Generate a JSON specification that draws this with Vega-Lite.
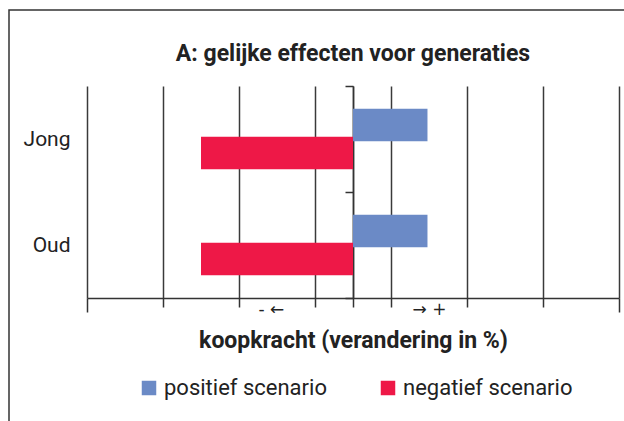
{
  "$schema": "https://vega.github.io/schema/vega-lite/v6.json",
  "width": 616,
  "height": 412,
  "autosize": {"type": "none"},
  "padding": {"left": 9, "top": 10, "right": 0, "bottom": 0},
  "background": "white",
  "title": {
    "text": "A: gelijke effecten voor generaties",
    "font": "Roboto",
    "fontSize": 23,
    "fontWeight": "bold",
    "color": "#222222",
    "anchor": "middle",
    "offset": -85,
    "baseline": "alphabetic",
    "dx": 36
  },
  "data": {
    "values": [
      {"groep": "Jong", "scenario": "positief scenario", "verandering": 0.98},
      {"groep": "Jong", "scenario": "negatief scenario", "verandering": -2.0},
      {"groep": "Oud", "scenario": "positief scenario", "verandering": 0.98},
      {"groep": "Oud", "scenario": "negatief scenario", "verandering": -2.0}
    ]
  },
  "resolve": {"axis": {"x": "independent"}},
  "layer": [
    {
      "mark": {"type": "rule", "opacity": 0},
      "encoding": {
        "y": {
          "field": "groep",
          "type": "nominal",
          "sort": ["Jong", "Oud"],
          "scale": {"range": [76, 288], "paddingInner": 0, "paddingOuter": 0}
        },
        "x": {
          "field": "verandering",
          "type": "quantitative",
          "scale": {"domain": [-3.5, 3.5], "range": [78, 610], "nice": false, "zero": false},
          "axis": {
            "orient": "top",
            "title": null,
            "values": [-3.5, -2.5, -1.5, -0.5, 0, 0.5, 1.5, 2.5, 3.5],
            "labels": false,
            "ticks": false,
            "domain": false,
            "grid": true,
            "gridColor": "#3a3a3a",
            "gridWidth": 1.5
          }
        }
      }
    },
    {
      "mark": {"type": "bar", "size": 32.7},
      "encoding": {
        "y": {
          "field": "groep",
          "type": "nominal",
          "sort": ["Jong", "Oud"],
          "scale": {"range": [76, 288], "paddingInner": 0, "paddingOuter": 0},
          "axis": {
            "title": null,
            "orient": "left",
            "offset": -344,
            "domain": true,
            "domainColor": "#333333",
            "domainWidth": 1.5,
            "ticks": true,
            "tickBand": "extent",
            "tickSize": 8,
            "tickColor": "#333333",
            "tickWidth": 1.5,
            "labelPadding": 275,
            "labelFont": "Roboto",
            "labelFontSize": 21,
            "labelColor": "#222222",
            "grid": false
          }
        },
        "yOffset": {
          "field": "scenario",
          "type": "nominal",
          "sort": ["positief scenario", "negatief scenario"],
          "scale": {"paddingInner": 0, "paddingOuter": 0.89}
        },
        "x": {
          "field": "verandering",
          "type": "quantitative",
          "scale": {"domain": [-3.5, 3.5], "range": [78, 610], "nice": false, "zero": false},
          "axis": {
            "title": "koopkracht (verandering in %)",
            "titleFont": "Roboto",
            "titleFontSize": 23,
            "titleFontWeight": "bold",
            "titleColor": "#222222",
            "titlePadding": 7,
            "orient": "bottom",
            "offset": -124,
            "values": [-3.5, -2.5, -1.5, -1.08, -0.5, 0, 0.5, 1, 1.5, 2.5, 3.5],
            "labelExpr": "datum.value == 1 ? '→ +' : (datum.value == -1.08 ? '-   ←' : '')",
            "labelOverlap": false,
            "labelFlush": false,
            "labelBound": false,
            "labelFont": "DejaVu Sans",
            "labelFontSize": 17,
            "labelColor": "#222222",
            "labelPadding": -6,
            "domain": true,
            "domainColor": "#333333",
            "domainWidth": 1.5,
            "tickColor": "#333333",
            "tickWidth": 1.5,
            "tickSize": {"condition": {"test": "abs(datum.value) == 3.5", "value": 14}, "value": 9},
            "tickOpacity": {"condition": {"test": "datum.value == 1 || datum.value == -1.08", "value": 0}, "value": 1},
            "grid": false
          }
        },
        "color": {
          "field": "scenario",
          "type": "nominal",
          "sort": ["positief scenario", "negatief scenario"],
          "scale": {"range": ["#6B8AC6", "#EE1847"]},
          "legend": {
            "title": null,
            "orient": "none",
            "legendX": 129,
            "legendY": 367,
            "direction": "horizontal",
            "symbolType": "square",
            "symbolSize": 210,
            "symbolStrokeWidth": 0,
            "symbolOpacity": 1,
            "labelFont": "Roboto",
            "labelFontSize": 22,
            "labelLimit": 400,
            "labelColor": "#222222",
            "labelOffset": 4,
            "columnPadding": 50,
            "padding": 0
          }
        }
      }
    }
  ],
  "config": {
    "view": {"stroke": "#333333", "strokeWidth": 1.5}
  }
}
